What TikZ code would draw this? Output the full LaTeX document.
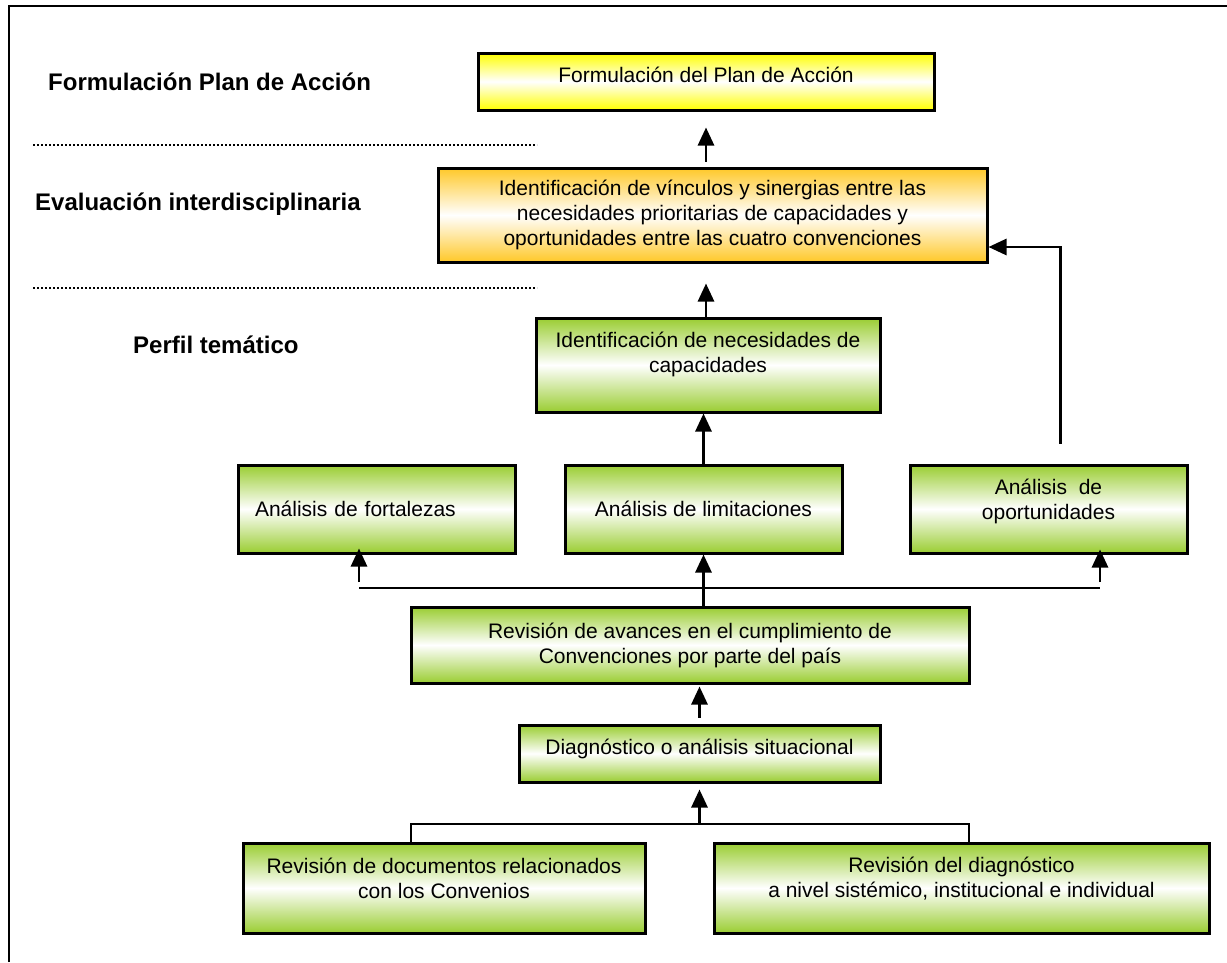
\documentclass[tikz,border=0pt]{standalone}
\usepackage{fontspec}
\setmainfont{Liberation Sans}
\usetikzlibrary{arrows.meta}

\definecolor{hoja}{RGB}{154,205,50}
\definecolor{oro}{RGB}{255,200,40}
\definecolor{limon}{RGB}{255,255,0}

\begin{document}
\begin{tikzpicture}[x=1pt,y=-1pt,
  caja/.style={draw, line width=3pt, align=center, inner sep=0pt, font=\fontsize{21}{25}\selectfont},
  verde/.style={caja, top color=hoja, bottom color=hoja, middle color=white},
  amarilla/.style={caja, top color=limon, bottom color=limon, middle color=white},
  naranja/.style={caja, top color=oro, bottom color=oro, middle color=white},
  etapa/.style={anchor=west, inner sep=0pt, font=\fontsize{24}{28}\selectfont\bfseries},
  linea/.style={line width=2.8pt},
  flecha/.style={linea, -{Triangle[width=16pt,length=18pt]}},
  punteada/.style={line width=2pt, dash pattern=on 2pt off 2pt}]
  \useasboundingbox (0,0) rectangle (1227,962);
  \draw[line width=2pt] (9,962) -- (9,6) -- (1227,6);

  \node[etapa] (formulacion) at (48,82) {Formulación Plan de Acción};
  \node[etapa] (evaluacion) at (35,204) {Evaluación interdisciplinaria};
  \node[etapa] (perfil) at (133,345) {Perfil temático};
  \draw[punteada] (33,145) -- (537,145);
  \draw[punteada] (33,288) -- (537,288);

  \node[amarilla, minimum width=456pt, minimum height=57pt, text depth=14pt] (plan) at (706,81.5) {Formulación del Plan de Acción};
  \node[naranja, minimum width=549pt, minimum height=94pt] (vinculos) at (712.5,215)
    {Identificación de vínculos y sinergias entre las\\necesidades prioritarias de capacidades y\\oportunidades entre las cuatro convenciones};
  \node[verde, minimum width=344pt, minimum height=94pt, text depth=26pt] (necesidades) at (708,365) {Identificación de necesidades de\\capacidades};
  \node[verde, minimum width=277pt, minimum height=88pt, text width=243pt, align=left] (fortalezas) at (376.5,509) {Análisis de fortalezas};
  \node[verde, minimum width=277pt, minimum height=88pt] (limitaciones) at (703.5,509) {Análisis de limitaciones};
  \node[verde, minimum width=277pt, minimum height=88pt, text depth=20pt] (oportunidades) at (1048.5,509) {Análisis\ \ de\\oportunidades};
  \node[verde, minimum width=558pt, minimum height=76pt] (avances) at (690,645)
    {Revisión de avances en el cumplimiento de\\Convenciones por parte del país};
  \node[verde, minimum width=361pt, minimum height=57pt, text depth=14pt] (diagnostico) at (699.5,753.5) {Diagnóstico o análisis situacional};
  \node[verde, minimum width=402pt, minimum height=90pt, text depth=20pt] (documentos) at (444,888) {Revisión de documentos relacionados\\con los Convenios};
  \node[verde, minimum width=495pt, minimum height=90pt, text depth=22pt] (sistemico) at (961.5,888)
    {Revisión del diagnóstico\\a nivel sistémico, institucional e individual};

  \coordinate (ramaI) at (359,588);
  \coordinate (ramaD) at (1100,588);
  \coordinate (baseI) at (411,824);
  \coordinate (baseD) at (969,824);

  \draw[flecha, shorten <=5pt, shorten >=16pt] (vinculos.north -| plan.south) -- (plan.south);
  \draw[flecha, shorten >=20pt] (necesidades.north -| plan.south) -- (vinculos.south -| plan.south);
  \draw[flecha] (limitaciones.north) -- (necesidades.south -| limitaciones.north);
  \draw[flecha] (avances.north -| limitaciones.north) -- (limitaciones.south);
  \draw[linea] (ramaI) -- (ramaD);
  \draw[flecha, shorten <=6pt, shorten >=-6pt] (ramaI) -- (ramaI |- fortalezas.south);
  \draw[flecha, shorten <=6pt, shorten >=-5pt] (ramaD) -- (ramaD |- oportunidades.south);
  \draw[flecha, shorten <=20pt] ([xshift=12pt]oportunidades.north) |- ([yshift=-32pt]vinculos.east);
  \draw[flecha, shorten <=6pt, shorten >=2pt] (diagnostico.north) -- (avances.south -| diagnostico.north);
  \draw[linea] (documentos.north -| baseI) |- (baseD) -- (sistemico.north -| baseD);
  \draw[flecha, shorten >=6pt] (baseI -| diagnostico.south) -- (diagnostico.south);
\end{tikzpicture}
\end{document}
